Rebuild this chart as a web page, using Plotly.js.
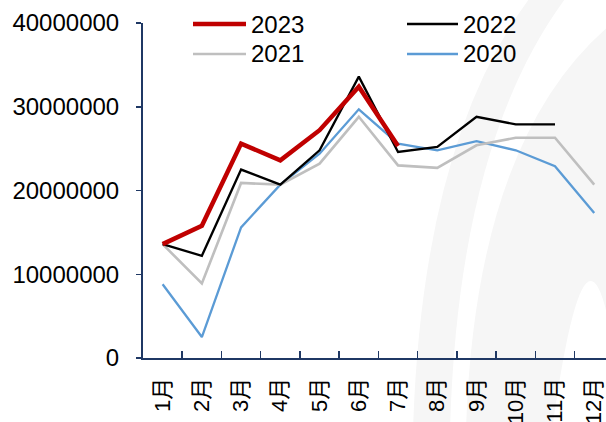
<!DOCTYPE html>
<html>
<head>
<meta charset="utf-8">
<script src="https://cdn.plot.ly/plotly-3.0.1.min.js"></script>
<style>
  html, body { margin: 0; padding: 0; background: #fff; overflow: hidden; }
  #chart { width: 606px; height: 422px; }
</style>
</head>
<body>
<div id="chart"></div>
<script>
// Monthly totals by year
const months = ["1月", "2月", "3月", "4月", "5月", "6月", "7月", "8月", "9月", "10月", "11月", "12月"];
const v2023 = [13600000, 15800000, 25600000, 23600000, 27200000, 32400000, 25300000];
const v2022 = [13600000, 12200000, 22500000, 20700000, 24800000, 33600000, 24600000, 25200000, 28800000, 27900000, 27900000];
const v2021 = [13600000, 8900000, 20900000, 20700000, 23200000, 28800000, 23000000, 22700000, 25400000, 26300000, 26300000, 20700000];
const v2020 = [8800000, 2500000, 15600000, 20700000, 24400000, 29700000, 25600000, 24800000, 25900000, 24800000, 22900000, 17300000];

const seriesNames = ["2023", "2022", "2021", "2020"];
const seriesValues = [v2023, v2022, v2021, v2020];
const seriesColors = ["#c00000", "#000000", "#bfbfbf", "#5b9bd5"];
const seriesWidths = [4.5, 2.3, 2.6, 2.3];

const FONT = "Liberation Sans, Arial, 'Noto Sans CJK SC', sans-serif";
const AXIS = "#1f3864";

// plot area geometry (pixels) used for converting decorative shapes to paper coords
const L = 143, R = 606, T = 23, B = 358;
const px = x => (x - L) / (R - L);
const py = y => (B - y) / (B - T);
function path(pts) {
  return pts.map(p => px(p[0]).toFixed(4) + "," + py(p[1]).toFixed(4)).join(" ");
}

// drawing order: thin lines first so the 2023 line sits on top
const order = [3, 2, 1, 0];
const traces = order.map(i => ({
  type: "scatter",
  mode: "lines",
  x: months.slice(0, seriesValues[i].length),
  y: seriesValues[i],
  name: seriesNames[i],
  line: { color: seriesColors[i], width: seriesWidths[i] },
  showlegend: false,
  hoverinfo: "x+y+name"
}));

// faint background watermark arcs
const WM = "#f6f6f6";
const shapes = [
  {
    type: "path", xref: "paper", yref: "paper", layer: "below",
    path: "M" + path([[413, 430]]) + " Q" + path([[422, 140], [532, -5]]) + " L" + path([[568, -5]]) +
          " Q" + path([[458, 140], [450, 430]]) + " Z",
    fillcolor: WM, line: { width: 0 }
  },
  {
    type: "path", xref: "paper", yref: "paper", layer: "below",
    path: "M" + path([[466, 430]]) + " Q" + path([[475, 140], [610, 25]]) + " L" + path([[610, 430]]) +
          " L" + path([[606, 430]]) + " L" + path([[606, 310]]) + " Q" + path([[582, 215], [552, 430]]) + " Z",
    fillcolor: WM, line: { width: 0 }
  }
];

// legend: two columns, two rows
const legendPos = [
  { x0: 193, x1: 246, y: 24 },
  { x0: 407, x1: 458, y: 24 },
  { x0: 193, x1: 246, y: 54 },
  { x0: 407, x1: 458, y: 54 }
];
const annotations = [];
seriesNames.forEach((name, s) => {
  const p = legendPos[s];
  shapes.push({
    type: "line", xref: "paper", yref: "paper",
    x0: px(p.x0), x1: px(p.x1), y0: py(p.y), y1: py(p.y),
    line: { color: seriesColors[s], width: seriesWidths[s] }
  });
  annotations.push({
    xref: "paper", yref: "paper", x: px(p.x1 + 3), y: py(p.y),
    xanchor: "left", yanchor: "middle", showarrow: false,
    text: name, font: { family: FONT, size: 24, color: "#000" }
  });
});

const layout = {
  width: 606, height: 422,
  margin: { l: L, r: 0, t: T, b: 422 - B, pad: 0 },
  paper_bgcolor: "#fff", plot_bgcolor: "rgba(0,0,0,0)",
  showlegend: false,
  xaxis: {
    type: "category",
    range: [-0.5, 11.3],
    tickson: "boundaries",
    ticks: "inside", ticklen: 7, tickwidth: 1.5, tickcolor: AXIS,
    showline: true, linecolor: AXIS, linewidth: 2,
    showgrid: false, zeroline: false,
    tickangle: -90,
    ticklabelstandoff: 9,
    tickfont: { family: FONT, size: 22, color: "#000" }
  },
  yaxis: {
    range: [0, 40000000],
    tickvals: [0, 10000000, 20000000, 30000000, 40000000],
    tickformat: "d",
    ticks: "outside", ticklen: 5, tickwidth: 1.5, tickcolor: AXIS,
    showline: true, linecolor: AXIS, linewidth: 2,
    showgrid: false, zeroline: false,
    ticklabelstandoff: 12,
    tickfont: { family: FONT, size: 24, color: "#000" }
  },
  shapes: shapes,
  annotations: annotations
};

Plotly.newPlot("chart", traces, layout, { displayModeBar: false, staticPlot: true });
</script>
</body>
</html>
